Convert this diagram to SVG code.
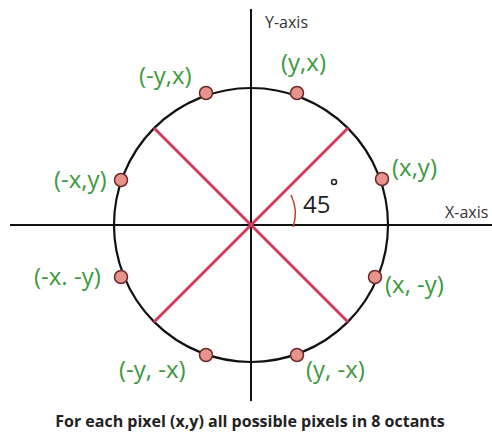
<svg xmlns="http://www.w3.org/2000/svg" width="492" height="433" viewBox="0 0 492 433">
<style>
.axis{stroke:#111;stroke-width:2;fill:none}
.circ{stroke:#111;stroke-width:2.2;fill:none}
.red{stroke:#d23c5c;stroke-width:3;fill:none}
.dot{fill:#e8948c;stroke:#6a2a2a;stroke-width:1.5}
.lbl{font-family:"Open Sans","DejaVu Sans",sans-serif;font-size:24px;fill:#3c9a3c}
.ax{font-family:"Open Sans","DejaVu Sans",sans-serif;font-size:16px;fill:#333}
.cap{font-family:"Open Sans","DejaVu Sans",sans-serif;font-size:16px;font-weight:bold;fill:#222}
</style>
<rect width="492" height="433" fill="#fff"/>
<g id="connectors">
<line class="axis" x1="251" y1="9" x2="251" y2="401"/>
<line class="axis" x1="10" y1="225" x2="492" y2="225"/>
<circle class="circ" cx="251" cy="225" r="137"/>
<line class="red" x1="154" y1="128" x2="348" y2="322"/>
<line class="red" x1="348" y1="128" x2="154" y2="322"/>
<path d="M291,195 A42,42 0 0 1 293,227" stroke="#b84030" stroke-width="1.5" fill="none"/>
</g>
<g id="y-axis-label"><text class="ax" x="265" y="28">Y-axis</text></g>
<g id="x-axis-label"><text class="ax" x="445" y="218">X-axis</text></g>
<g id="angle"><text x="303" y="213" font-family="Open Sans,DejaVu Sans,sans-serif" font-size="24" fill="#222">45</text><circle cx="334" cy="182" r="2.5" fill="none" stroke="#222" stroke-width="1.5"/></g>
<g id="p1"><circle class="dot" cx="297" cy="93" r="6.5"/><text class="lbl" x="281" y="71">(y,x)</text></g>
<g id="p2"><circle class="dot" cx="206" cy="93" r="6.5"/><text class="lbl" x="139" y="84">(-y,x)</text></g>
<g id="p3"><circle class="dot" cx="382" cy="179" r="6.5"/><text class="lbl" x="392" y="176">(x,y)</text></g>
<g id="p4"><circle class="dot" cx="121" cy="180" r="6.5"/><text class="lbl" x="54" y="188">(-x,y)</text></g>
<g id="p5"><circle class="dot" cx="121" cy="277" r="6.5"/><text class="lbl" x="34" y="285">(-x. -y)</text></g>
<g id="p6"><circle class="dot" cx="375" cy="277" r="6.5"/><text class="lbl" x="385" y="293">(x, -y)</text></g>
<g id="p7"><circle class="dot" cx="206" cy="355" r="6.5"/><text class="lbl" x="119" y="378">(-y, -x)</text></g>
<g id="p8"><circle class="dot" cx="297" cy="355" r="6.5"/><text class="lbl" x="306" y="378">(y, -x)</text></g>
<g id="caption"><text class="cap" x="250" y="427" text-anchor="middle">For each pixel (x,y) all possible pixels in 8 octants</text></g>
</svg>
